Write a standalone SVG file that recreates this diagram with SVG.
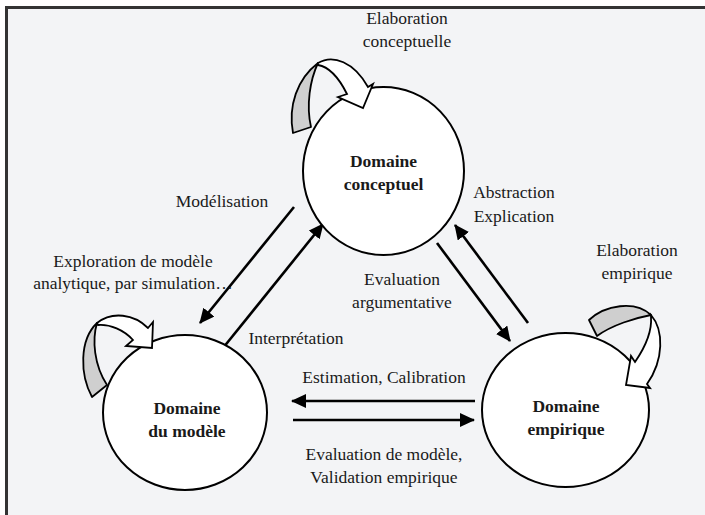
<svg xmlns="http://www.w3.org/2000/svg" width="705" height="515" viewBox="0 0 705 515">
<defs>
<style>
.lbl{font-family:"Liberation Serif","Times New Roman",serif;font-size:17.5px;fill:#1a1a1a;text-anchor:middle}
.node{fill:#fff;stroke:#000;stroke-width:2}
.nt{font-family:"Liberation Serif","Times New Roman",serif;font-size:17.5px;font-weight:bold;fill:#1a1a1a;text-anchor:middle}
.conn{stroke:#000;stroke-width:2.6;fill:none;marker-end:url(#ah)}
.back{fill:#cfcfcf;stroke:#000;stroke-width:1.8;stroke-linejoin:round}
.front{fill:#fff;stroke:#000;stroke-width:1.8;stroke-linejoin:miter}
</style>
<marker id="ah" markerUnits="userSpaceOnUse" markerWidth="16" markerHeight="14" viewBox="0 0 16 14" refX="14" refY="7" orient="auto">
<path d="M0,0 L15,7 L0,14 Z" fill="#000"/>
</marker>
</defs>
<rect x="0" y="0" width="705" height="515" fill="#fff"/>
<rect x="6" y="7.5" width="699" height="507.5" fill="#f3f4f6"/>
<path d="M5,7.5 H705 M6.5,6 V515" stroke="#333" stroke-width="3" fill="none"/>

<g id="connectors">
<line class="conn" x1="294" y1="207" x2="200" y2="323"/>
<line class="conn" x1="223" y1="348" x2="323" y2="224"/>
<line class="conn" x1="437" y1="243" x2="510" y2="341"/>
<line class="conn" x1="528" y1="323" x2="455" y2="225"/>
<line class="conn" x1="475" y1="401" x2="292" y2="401"/>
<line class="conn" x1="293" y1="420" x2="474" y2="420"/>
</g>

<g id="node-conceptuel">
<ellipse class="node" cx="383.5" cy="171" rx="80.5" ry="84"/>
<text class="nt" x="383.5" y="167">Domaine</text>
<text class="nt" x="383.5" y="190">conceptuel</text>
</g>
<g id="node-modele">
<ellipse class="node" cx="185" cy="412.5" rx="82" ry="77.5"/>
<text class="nt" x="187" y="414">Domaine</text>
<text class="nt" x="187" y="437">du modèle</text>
</g>
<g id="node-empirique">
<ellipse class="node" cx="565.5" cy="410" rx="83.5" ry="77"/>
<text class="nt" x="566" y="412">Domaine</text>
<text class="nt" x="566" y="435">empirique</text>
</g>

<g id="loop-conceptuel">
<path class="back" d="M293,133 C288,106 297,79 318,63 C310,80 306,105 311,127 Z"/>
<path class="front" d="M318,63 C333,54 354,62 368,87 L373,84 L363,108 L338,97 L347,94 C340,80 330,67 318,65 Z"/>
</g>
<g id="loop-modele">
<path class="back" d="M92,397 C80,375 79,340 97,323 C92,340 94,365 107,385 Z"/>
<path class="front" d="M97,323 C112,311 134,314 148,328 L153,322 L152,348 L126,346 L133,340 C124,330 110,324 98,325 Z"/>
</g>
<g id="loop-empirique">
<path class="back" d="M589,320 C605,305 635,300 651,315 C635,318 612,325 597,336 Z"/>
<path class="front" d="M651,315 C664,330 664,360 647,384 L650,388 L626,385 L631,356 L635,362 C646,346 652,330 651,317 Z"/>
</g>

<g id="labels">
<text class="lbl" x="407" y="24">Elaboration</text>
<text class="lbl" x="407" y="47">conceptuelle</text>
<text class="lbl" x="222" y="207">Modélisation</text>
<text class="lbl" x="514" y="198">Abstraction</text>
<text class="lbl" x="514" y="222">Explication</text>
<text class="lbl" x="133" y="267">Exploration de modèle</text>
<text class="lbl" x="133" y="289">analytique, par simulation…</text>
<text class="lbl" x="637" y="256">Elaboration</text>
<text class="lbl" x="637" y="279">empirique</text>
<text class="lbl" x="402" y="285">Evaluation</text>
<text class="lbl" x="402" y="308">argumentative</text>
<text class="lbl" x="296" y="344">Interprétation</text>
<text class="lbl" x="384" y="383">Estimation, Calibration</text>
<text class="lbl" x="384" y="460">Evaluation de modèle,</text>
<text class="lbl" x="384" y="483">Validation empirique</text>
</g>
</svg>
